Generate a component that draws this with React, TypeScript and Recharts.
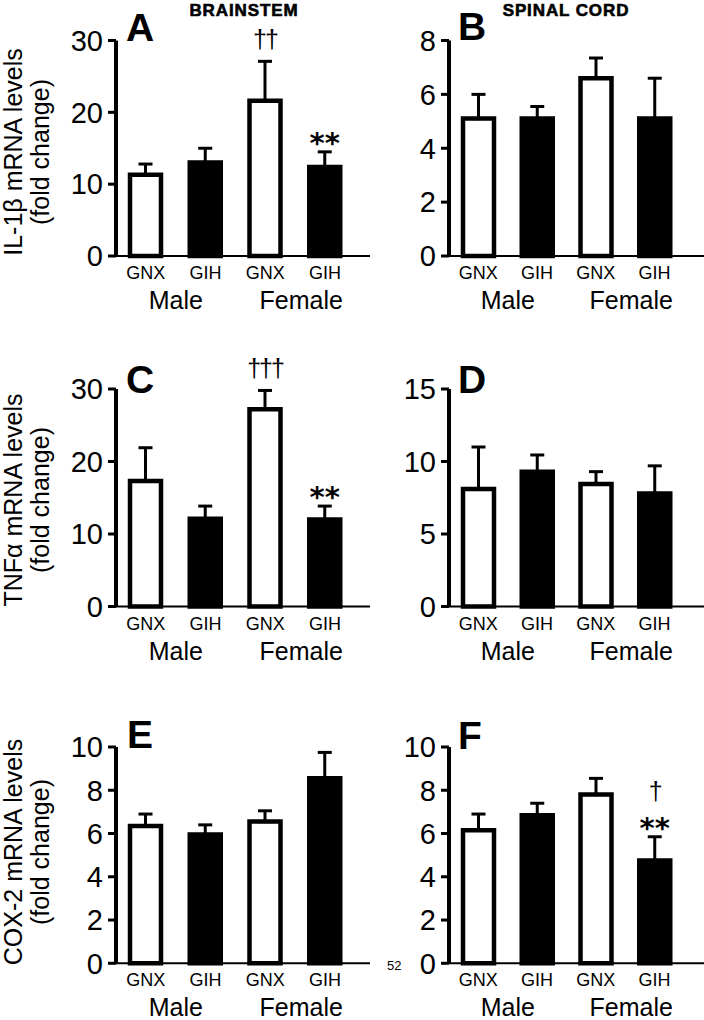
import React from 'react';
import { BarChart, Bar, XAxis, YAxis, ErrorBar, Cell, LabelList } from 'recharts';

const groups = ['GNX', 'GIH', 'GNX', 'GIH'];
const sexes = ['Male', 'Female'];
const fills = ['#ffffff', '#000000', '#ffffff', '#000000'];

// means and upper SEM
const il1bBrainstem = [11.3, 13.0, 21.6, 12.4];
const il1bBrainstemErr = [1.5, 2.0, 5.5, 2.1];
const il1bSpinal = [5.1, 5.1, 6.6, 5.1];
const il1bSpinalErr = [0.9, 0.45, 0.75, 1.5];
const tnfBrainstem = [17.3, 12.1, 27.2, 12.0];
const tnfBrainstemErr = [4.6, 1.75, 2.6, 1.85];
const tnfSpinal = [8.1, 9.3, 8.45, 7.8];
const tnfSpinalErr = [2.9, 1.15, 0.85, 1.9];
const cox2Brainstem = [6.35, 5.95, 6.55, 8.55];
const cox2BrainstemErr = [0.55, 0.45, 0.5, 1.2];
const cox2Spinal = [6.15, 6.85, 7.8, 4.75];
const cox2SpinalErr = [0.75, 0.55, 0.75, 1.1];

// significance marks, lines separated by '|' (top first)
const marksA = ['', '', '††', '**'];
const marksC = ['', '', '†††', '**'];
const marksF = ['', '', '', '†|**'];
const noMarks = ['', '', '', ''];

const ticks30 = [0, 10, 20, 30];
const ticks8 = [0, 2, 4, 6, 8];
const ticks15 = [0, 5, 10, 15];
const ticks10 = [0, 2, 4, 6, 8, 10];

const FONT = '"Liberation Sans", Arial, sans-serif';
const X_AXIS_H = 60;

function renderMarks(props: any) {
  const vb = props.viewBox && props.viewBox.width != null ? props.viewBox : props;
  const raw = props.value;
  if (!raw) return null;
  const cx = Number(vb.x) + Number(vb.width) / 2;
  const top = Number(vb.y);
  const lines = String(raw).split('|').reverse();
  let cursor = top;
  const out: React.ReactNode[] = [];
  lines.forEach((line, i) => {
    if (line.includes('*')) {
      out.push(
        <text key={i} x={cx} y={cursor + 1} textAnchor="middle" fontSize={29} fontWeight="bold"
          fontFamily='"DejaVu Sans", sans-serif' fill="#000">{line}</text>
      );
      cursor -= 24;
    } else {
      out.push(
        <text key={i} x={cx} y={cursor - 13} textAnchor="middle" fontSize={25}
          fontFamily={FONT} letterSpacing={-2} fill="#000">{line}</text>
      );
      cursor -= 30;
    }
  });
  return <g>{out}</g>;
}

function makeTick(step: number) {
  return (props: any) => {
    const { x, y, payload, index } = props;
    const i = payload && payload.index != null ? payload.index : index;
    return (
      <g>
        <text x={x} y={y + 23} textAnchor="middle" fontSize={18} fontFamily={FONT} fill="#000">
          {groups[i]}
        </text>
        {i % 2 === 0 && (
          <text x={x + step / 2 + (i === 2 ? 6 : 0)} y={y + 53} textAnchor="middle"
            fontSize={25} fontFamily={FONT} fill="#000">
            {sexes[i / 2]}
          </text>
        )}
      </g>
    );
  };
}

type PanelProps = {
  values: number[];
  errors: number[];
  marks: string[];
  max: number;
  ticks: number[];
  left: number;
  top: number;
  width: number;
  height: number;
  yAxisWidth: number;
  marginTop: number;
  plotHeight: number;
  marginRight: number;
  padRight: number;
};

function Panel(p: PanelProps) {
  const data = groups.map((g, i) => ({
    name: g + i,
    value: p.values[i],
    err: p.errors[i],
    errRange: [0, p.errors[i]],
    marks: p.marks[i],
  }));
  const plotWidth = p.width - p.yAxisWidth - p.marginRight;
  const step = (plotWidth - p.padRight) / groups.length;
  const marginBottom = p.height - p.marginTop - p.plotHeight - X_AXIS_H;
  return (
    <div style={{ position: 'absolute', left: p.left, top: p.top, width: p.width, height: p.height }}>
      <BarChart
        width={p.width}
        height={p.height}
        data={data}
        margin={{ top: p.marginTop, right: p.marginRight, bottom: marginBottom, left: 0 }}
        barCategoryGap={0}
      >
        <XAxis
          dataKey="name"
          height={X_AXIS_H}
          axisLine={{ stroke: '#000', strokeWidth: 2 }}
          tickLine={false}
          tickSize={0}
          tickMargin={0}
          interval={0}
          padding={{ left: 0, right: p.padRight }}
          tick={makeTick(step)}
        />
        <YAxis
          type="number"
          domain={[0, p.max]}
          ticks={p.ticks}
          interval={0}
          width={p.yAxisWidth}
          axisLine={{ stroke: '#000', strokeWidth: 4 }}
          tickLine={{ stroke: '#000', strokeWidth: 3 }}
          tickSize={8}
          tickMargin={5}
          tick={{ fontSize: 29, fill: '#000', fontFamily: FONT }}
        />
        <Bar dataKey="value" stackId="s" barSize={31} stroke="#000" strokeWidth={4.5}
          isAnimationActive={false}>
          {data.map((d, i) => (
            <Cell key={d.name} fill={fills[i]} />
          ))}
          <ErrorBar dataKey="errRange" direction="y" width={7} stroke="#000" strokeWidth={3}
            isAnimationActive={false} />
        </Bar>
        <Bar dataKey="err" stackId="s" barSize={31} fill="none" stroke="none"
          isAnimationActive={false}>
          <LabelList dataKey="marks" content={renderMarks} />
        </Bar>
      </BarChart>
    </div>
  );
}

const leftCol = { left: 0, width: 372, yAxisWidth: 116, marginRight: 2, padRight: 15 };
const rightCol = { left: 352, width: 352, yAxisWidth: 97, marginRight: 0, padRight: 20 };
const row1 = { top: 0, height: 320, marginTop: 40.5, plotHeight: 215.5 };
const row2 = { top: 330, height: 340, marginTop: 59, plotHeight: 217.5 };
const row3 = { top: 680, height: 345, marginTop: 67, plotHeight: 216.3 };

function YLabel({ cy, text }: { cy: number; text: string }) {
  return (
    <g fontFamily={FONT} fontSize={25} fill="#000">
      <text transform={`translate(22, ${cy}) rotate(-90)`} textAnchor="middle">{text}</text>
      <text transform={`translate(49, ${cy}) rotate(-90)`} textAnchor="middle">(fold change)</text>
    </g>
  );
}

export default function App() {
  return (
    <div style={{ position: 'absolute', left: 0, top: 0, width: 704, height: 1020, overflow: 'hidden', background: '#fff' }}>
      <Panel {...leftCol} {...row1} values={il1bBrainstem} errors={il1bBrainstemErr} marks={marksA} max={30} ticks={ticks30} />
      <Panel {...rightCol} {...row1} values={il1bSpinal} errors={il1bSpinalErr} marks={noMarks} max={8} ticks={ticks8} />
      <Panel {...leftCol} {...row2} values={tnfBrainstem} errors={tnfBrainstemErr} marks={marksC} max={30} ticks={ticks30} />
      <Panel {...rightCol} {...row2} values={tnfSpinal} errors={tnfSpinalErr} marks={noMarks} max={15} ticks={ticks15} />
      <Panel {...leftCol} {...row3} values={cox2Brainstem} errors={cox2BrainstemErr} marks={noMarks} max={10} ticks={ticks10} />
      <Panel {...rightCol} {...row3} values={cox2Spinal} errors={cox2SpinalErr} marks={marksF} max={10} ticks={ticks10} />
      <svg width={704} height={1020} style={{ position: 'absolute', left: 0, top: 0, pointerEvents: 'none' }}>
        <g fontFamily={FONT} fontWeight="bold" fontSize={39} fill="#000">
          <text x={126} y={41}>A</text>
          <text x={458} y={40}>B</text>
          <text x={126} y={393}>C</text>
          <text x={458} y={393}>D</text>
          <text x={127} y={748}>E</text>
          <text x={458} y={749}>F</text>
        </g>
        <g fontFamily={FONT} fontWeight="bold" fontSize={17} fill="#000" letterSpacing={0.9}
          stroke="#000" strokeWidth={0.6}>
          <text x={244} y={16} textAnchor="middle">BRAINSTEM</text>
          <text x={566} y={16} textAnchor="middle">SPINAL CORD</text>
        </g>
        <YLabel cy={152} text="IL-1β mRNA levels" />
        <YLabel cy={500} text="TNFα mRNA levels" />
        <YLabel cy={852} text="COX-2 mRNA levels" />
        <text x={387} y={970} fontFamily={FONT} fontSize={13} fill="#000">52</text>
      </svg>
    </div>
  );
}
